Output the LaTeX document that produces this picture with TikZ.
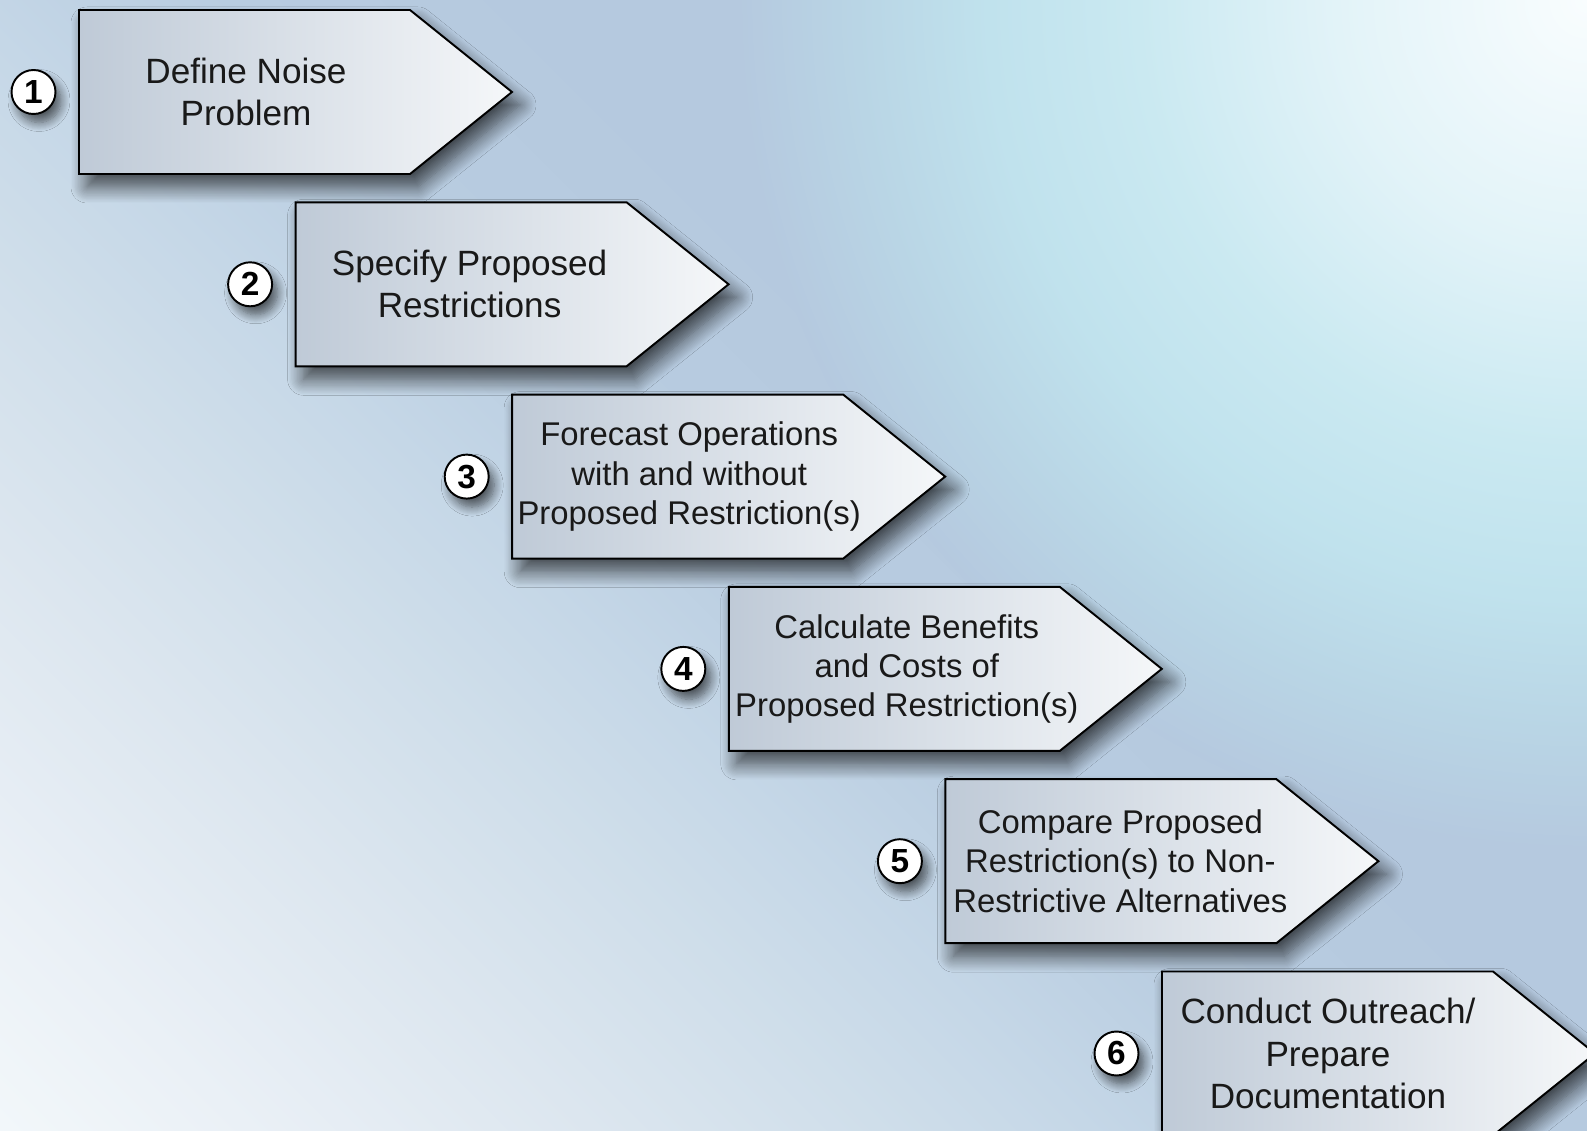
\documentclass[tikz,border=0pt]{standalone}
\usepackage{fontspec}
\setmainfont{Liberation Sans}
\usetikzlibrary{shadows.blur}

\definecolor{bgA}{HTML}{F6F9FC}
\definecolor{bgB}{HTML}{F2F7FA}
\definecolor{bgC}{HTML}{EAF0F6}
\definecolor{bgD}{HTML}{DCE6EF}
\definecolor{bgE}{HTML}{CFDEEA}
\definecolor{bgF}{HTML}{C5D7E7}
\definecolor{bgG}{HTML}{B8CCE0}
\definecolor{bgblue}{HTML}{B5C9DF}
\definecolor{glowA}{HTML}{F9FDFE}
\definecolor{glowB}{HTML}{E2F3F8}
\definecolor{glowC}{HTML}{CAE9F1}
\definecolor{glowD}{HTML}{C0E2ED}
\definecolor{glowE}{HTML}{B9D5E5}
\definecolor{boxleft}{HTML}{BFCAD7}
\definecolor{boxright}{HTML}{F5F7F9}

\pgfdeclarehorizontalshading{backdrop}{100bp}{%
  color(0bp)=(bgA); color(14.6bp)=(bgB); color(21bp)=(bgC); color(30bp)=(bgD);
  color(37.5bp)=(bgE); color(43bp)=(bgF); color(50bp)=(bgG); color(58bp)=(bgblue);
  color(100bp)=(bgblue)}
\pgfdeclareradialshading{glow}{\pgfpointorigin}{%
  color(0bp)=(glowA); color(7.4bp)=(glowB); color(13.2bp)=(glowC);
  color(17.6bp)=(glowD); color(21.5bp)=(glowE); color(25bp)=(bgblue); color(50bp)=(bgblue)}

\tikzset{
  stepbox/.style={draw=black, line width=1.1pt, line join=miter,
    left color=boxleft, right color=boxright,
    blur shadow={shadow xshift=0.16cm, shadow yshift=-0.26cm,
      shadow blur radius=0.32cm, shadow blur steps=14, shadow opacity=68}},
  numcircle/.style={circle, draw=black, line width=1.1pt, fill=white,
    minimum size=0.88cm, inner sep=0pt,
    font=\fontsize{19}{19}\selectfont\bfseries,
    blur shadow={shadow xshift=0.11cm, shadow yshift=-0.17cm,
      shadow blur radius=0.18cm, shadow blur steps=10, shadow opacity=60}}
}

\begin{document}
\begin{tikzpicture}[x=0.02cm,y=-0.02cm]
\useasboundingbox (0,0) rectangle (1587,1131);
\clip (0,0) rectangle (1587,1131);
\shade[shading=backdrop, shading angle=45] (0,0) rectangle (1587,1131);
\shade[shading=glow] (1587,0) circle [radius=850];

% one arrow per step, each shifted down and right
\foreach \k/\dx/\fs/\bs/\txt in {
    0/167/20/24/{Define Noise\\Problem},
    1/174/20/24/{Specify Proposed\\Restrictions},
    2/177/18.7/22.4/{Forecast Operations\\with and without\\Proposed Restriction(s)},
    3/178/18.7/22.4/{Calculate Benefits\\and Costs of\\Proposed Restriction(s)},
    4/175/18.7/22.4/{Compare Proposed\\Restriction(s) to Non-\\Restrictive Alternatives},
    5/166/20/24/{Conduct Outreach/\\Prepare\\Documentation}} {
  \pgfmathsetmacro\L{79+216.6*\k}
  \pgfmathsetmacro\T{10+192.3*\k}
  \pgfmathtruncatemacro\n{\k+1}
  \coordinate (corner\n) at (\L,\T);
  \draw[stepbox] (corner\n) -- ++(331,0) -- ++(102,82) -- ++(-102,82) -- ++(-331,0) -- cycle;
  \node[align=center, text=black!90, font=\fontsize{\fs}{\bs}\selectfont]
    (step\n) at (\L+\dx,\T+82) {\txt};
  \node[numcircle] (num\n) at (\L-45.5,\T+82) {\n};
}

\end{tikzpicture}
\end{document}
